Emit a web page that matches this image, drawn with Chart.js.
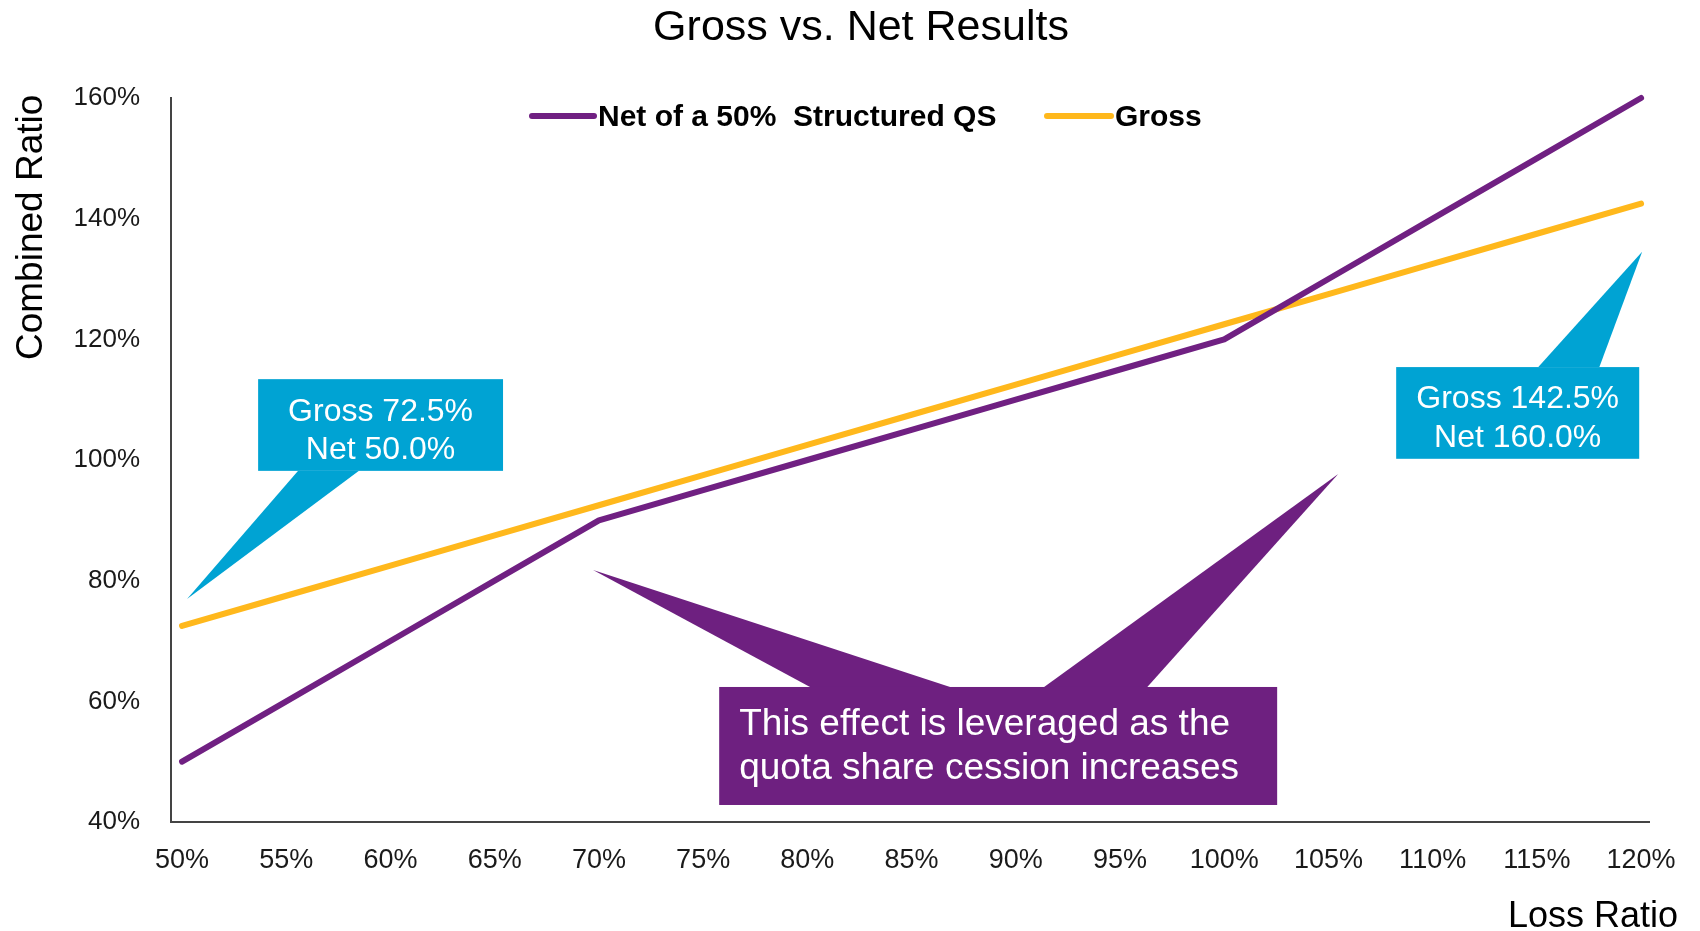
<!DOCTYPE html>
<html>
<head>
<meta charset="utf-8">
<title>Gross vs. Net Results</title>
<script src="https://cdn.jsdelivr.net/npm/chart.js@4.4.1/dist/chart.umd.min.js"></script>
<style>
  html, body { margin: 0; padding: 0; background: #fff; }
  canvas { display: block; }
</style>
</head>
<body>
<canvas id="grossNet" width="1700" height="931"></canvas>
<script>
// loss ratio (%) on x, combined ratio (%) on y
const lossRatio = [50, 55, 60, 65, 70, 75, 80, 85, 90, 95, 100, 105, 110, 115, 120];
const netQS = [50, 60, 70, 80, 90, 95, 100, 105, 110, 115, 120, 130, 140, 150, 160];
const gross = [72.5, 77.5, 82.5, 87.5, 92.5, 97.5, 102.5, 107.5, 112.5, 117.5, 122.5, 127.5, 132.5, 137.5, 142.5];
const xTicks = [50, 55, 60, 65, 70, 75, 80, 85, 90, 95, 100, 105, 110, 115, 120];
const yTicks = [40, 60, 80, 100, 120, 140, 160];

const seriesNames = ['Net of a 50%  Structured QS', 'Gross'];
const PURPLE = '#702082';
const GOLD = '#FFB81C';
const BLUE = '#00A3D3';
const FONT = '"Liberation Sans", Arial, sans-serif';

// callouts, in axis units: box = [x0, yTop, x1, yBottom], pointer = [baseX0, baseX1, baseY, tipX, tipY]
const callouts = [
    { fill: BLUE, box: [53.65, 113.4, 65.4, 98.2], pointers: [[55.57, 58.49, 98.2, 50.24, 76.96]],
      lines: ['Gross 72.5%', 'Net 50.0%'], align: 'center', size: 32, lead: 38, shift: 6 },
    { fill: BLUE, box: [108.25, 115.4, 119.91, 100.2], pointers: [[115.07, 118.0, 115.4, 120.05, 134.5]],
      lines: ['Gross 142.5%', 'Net 160.0%'], align: 'center', size: 32, lead: 39, shift: 6 },
    { fill: '#6E2080', box: [75.77, 62.38, 102.54, 42.82],
      pointers: [[80.13, 86.85, 62.38, 69.72, 81.77], [91.36, 96.31, 62.38, 105.47, 97.68]],
      lines: ['This effect is leveraged as the', 'quota share cession increases'], align: 'left', size: 37, lead: 44, shift: 1 }
];

const extras = {
    id: 'extras',
    afterDatasetsDraw(chart) {
        const {ctx, scales: {x, y}} = chart;
        ctx.save();
        callouts.forEach(c => {
            const bx0 = x.getPixelForValue(c.box[0]), by0 = y.getPixelForValue(c.box[1]);
            const bx1 = x.getPixelForValue(c.box[2]), by1 = y.getPixelForValue(c.box[3]);
            ctx.fillStyle = c.fill;
            c.pointers.forEach(p => {
                const py = y.getPixelForValue(p[2]);
                ctx.beginPath();
                ctx.moveTo(x.getPixelForValue(p[0]), py);
                ctx.lineTo(x.getPixelForValue(p[3]), y.getPixelForValue(p[4]));
                ctx.lineTo(x.getPixelForValue(p[1]), py);
                ctx.closePath();
                ctx.fill();
            });
            ctx.fillRect(bx0, by0, bx1 - bx0, by1 - by0);
            ctx.fillStyle = '#fff';
            ctx.font = c.size + 'px ' + FONT;
            ctx.textBaseline = 'middle';
            ctx.textAlign = c.align;
            const tx = c.align === 'center' ? (bx0 + bx1) / 2 : bx0 + 20;
            const mid = (by0 + by1) / 2 + c.shift;
            c.lines.forEach((t, i) => {
                ctx.fillText(t, tx, mid + (i - (c.lines.length - 1) / 2) * c.lead);
            });
        });
        ctx.restore();
    },
    afterDraw(chart) {
        const {ctx} = chart;
        ctx.save();
        ctx.fillStyle = '#000';
        ctx.textBaseline = 'alphabetic';

        // title
        ctx.font = '43px ' + FONT;
        ctx.textAlign = 'center';
        ctx.fillText('Gross vs. Net Results', 861, 40);

        // axis titles
        ctx.font = '36px ' + FONT;
        ctx.textAlign = 'right';
        ctx.fillText('Loss Ratio', 1678, 927);
        ctx.save();
        ctx.translate(42, 360);
        ctx.rotate(-Math.PI / 2);
        ctx.font = '37px ' + FONT;
        ctx.textAlign = 'left';
        ctx.fillText('Combined Ratio', 0, 0);
        ctx.restore();

        // legend
        const items = [
            { label: seriesNames[0], color: PURPLE, x0: 532, x1: 594 },
            { label: seriesNames[1], color: GOLD, x0: 1047, x1: 1111 }
        ];
        ctx.font = 'bold 30px ' + FONT;
        ctx.textAlign = 'left';
        ctx.lineCap = 'round';
        ctx.lineWidth = 6;
        items.forEach(it => {
            ctx.strokeStyle = it.color;
            ctx.beginPath();
            ctx.moveTo(it.x0, 116);
            ctx.lineTo(it.x1, 116);
            ctx.stroke();
            ctx.fillStyle = '#000';
            ctx.fillText(it.label, it.x1 + 4, 126);
        });
        ctx.restore();
    }
};

const ctx = document.getElementById('grossNet').getContext('2d');
const myChart = new Chart(ctx, {
    type: 'line',
    data: {
        datasets: [{
            label: seriesNames[1],
            data: lossRatio.map((v, i) => ({x: v, y: gross[i]})),
            borderColor: GOLD,
            order: 2
        }, {
            label: seriesNames[0],
            data: lossRatio.map((v, i) => ({x: v, y: netQS[i]})),
            borderColor: PURPLE,
            order: 1
        }]
    },
    options: {
        responsive: false,
        animation: false,
        devicePixelRatio: 1,
        layout: { padding: { top: 98, right: 51, bottom: 0, left: 0 } },
        elements: {
            line: { borderWidth: 6, tension: 0, borderCapStyle: 'round', borderJoinStyle: 'round' },
            point: { radius: 0, hoverRadius: 0 }
        },
        datasets: { line: { clip: 10 } },
        plugins: { legend: { display: false }, title: { display: false }, tooltip: { enabled: false } },
        scales: {
            x: {
                type: 'linear',
                min: 49.47,
                max: 120.38,
                afterBuildTicks: s => { s.ticks = xTicks.map(v => ({value: v})); },
                afterFit: s => { s.height = 109; },
                grid: { display: false },
                border: { display: true, color: '#444', width: 2 },
                ticks: {
                    autoSkip: false, maxRotation: 0, padding: 14, color: '#1a1a1a',
                    font: { family: FONT, size: 27 },
                    callback: v => v + '%'
                }
            },
            y: {
                min: 40,
                max: 160,
                afterBuildTicks: s => { s.ticks = yTicks.map(v => ({value: v})); },
                afterFit: s => { s.width = 171; },
                grid: { display: false },
                border: { display: true, color: '#444', width: 2 },
                ticks: {
                    padding: 23, color: '#1a1a1a',
                    font: { family: FONT, size: 26 },
                    callback: v => v + '%'
                }
            }
        }
    },
    plugins: [extras]
});
</script>
</body>
</html>
